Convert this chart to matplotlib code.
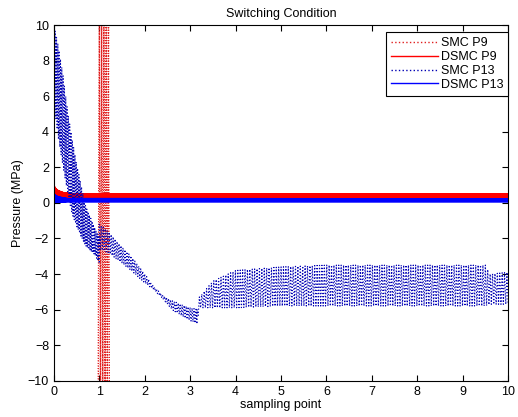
#!/usr/bin/env python3
# Switching condition: pressure response of SMC vs DSMC at P9 and P13.

import numpy as np
import matplotlib
matplotlib.use('Agg')
import matplotlib.pyplot as plt

plt.rcParams['font.family'] = ['Liberation Sans', 'DejaVu Sans']

# SMC P9: turning points of the large oscillation near x = 1
smc_p9_x = [0.97, 0.995, 1.02, 1.045, 1.07, 1.095, 1.12, 1.145, 1.17, 1.195, 1.22,
            1.207, 1.182, 1.157, 1.132, 1.107, 1.082, 1.057, 1.032, 1.007, 0.982]
smc_p9_y = [-10.5, 10.5, -10.5, 10.5, -10.5, 10.5, -10.5, 10.5, -10.5, 10.5, -10.5,
            10.5, -10.5, 10.5, -10.5, 10.5, -10.5, 10.5, -10.5, 10.5, -10.5]

# DSMC P9: envelope of the fast oscillation
dsmc_p9_x = [0.0, 0.05, 0.1, 0.2, 0.4, 10.0]
dsmc_p9_hi = [1.0, 0.8, 0.7, 0.6, 0.52, 0.52]
dsmc_p9_lo = [0.3, 0.28, 0.27, 0.26, 0.26, 0.26]

# DSMC P13: envelope of the fast oscillation
dsmc_p13_x = [0.0, 0.1, 0.3, 10.0]
dsmc_p13_hi = [0.5, 0.35, 0.26, 0.25]
dsmc_p13_lo = [0.02, 0.03, 0.05, 0.05]

# SMC P13: envelopes of the three phases
smc_p13_a_x = [0.0, 0.1, 0.2, 0.3, 0.4, 0.5, 0.6, 0.7, 0.8, 0.9, 1.0]
smc_p13_a_hi = [10.0, 8.8, 7.2, 5.2, 3.6, 2.2, 1.0, -0.2, -0.8, -1.4, -2.0]
smc_p13_a_lo = [5.6, 3.6, 2.1, 0.6, -0.6, -1.3, -1.9, -2.4, -2.7, -2.9, -3.4]

smc_p13_b_x = [1.0, 1.2, 1.4, 1.7, 2.0, 2.2, 2.4, 2.6, 2.9, 3.15]
smc_p13_b_hi = [-1.2, -1.6, -2.2, -3.0, -4.0, -4.7, -5.2, -5.5, -5.8, -6.0]
smc_p13_b_lo = [-2.6, -2.8, -3.2, -3.8, -4.5, -4.9, -5.4, -6.0, -6.5, -6.8]

smc_p13_c_x = [3.15, 3.2, 3.5, 4.0, 5.0, 6.0, 7.0, 8.0, 9.0, 9.5, 9.6, 10.0]
smc_p13_c_hi = [-6.0, -5.3, -4.4, -3.8, -3.6, -3.5, -3.5, -3.5, -3.5, -3.5, -4.0, -3.9]
smc_p13_c_lo = [-6.8, -5.9, -5.9, -5.9, -5.8, -5.8, -5.8, -5.8, -5.8, -5.8, -5.7, -5.7]


def zigzag(xk, hi, lo, n):
    # alternate between the upper and lower envelope
    x = np.linspace(xk[0], xk[-1], n)
    top = np.interp(x, xk, hi)
    bot = np.interp(x, xk, lo)
    y = np.where(np.arange(n) % 2 == 0, top, bot)
    return x, y


fig = plt.figure(figsize=(5.18, 4.17), dpi=100)
ax = fig.add_axes([0.104, 0.087, 0.877, 0.853])

ax.plot(smc_p9_x, smc_p9_y, color='#e02020', ls=':', lw=0.7, label='SMC P9')

x, y = zigzag(dsmc_p9_x, dsmc_p9_hi, dsmc_p9_lo, 3000)
ax.plot(x, y, color='#ff0000', ls='-', lw=0.6, label='DSMC P9')

xa, ya = zigzag(smc_p13_a_x, smc_p13_a_hi, smc_p13_a_lo, 70)
xb, yb = zigzag(smc_p13_b_x, smc_p13_b_hi, smc_p13_b_lo, 100)
xc, yc = zigzag(smc_p13_c_x, smc_p13_c_hi, smc_p13_c_lo, 260)
ax.plot(np.concatenate([xa, xb, xc]), np.concatenate([ya, yb, yc]),
        color='#0000b4', ls=':', lw=0.85, label='SMC P13')

x, y = zigzag(dsmc_p13_x, dsmc_p13_hi, dsmc_p13_lo, 3000)
ax.plot(x, y, color='#0000ff', ls='-', lw=0.6, label='DSMC P13')

ax.set_xlim(0, 10)
ax.set_ylim(-10, 10)
ax.set_xticks(range(0, 11))
ax.set_yticks(range(-10, 11, 2))
ax.tick_params(direction='in', top=True, right=True, length=4, labelsize=9)
ax.set_xlabel('sampling point', fontsize=9, labelpad=1)
ax.set_ylabel('Pressure (MPa)', fontsize=9, labelpad=3)
ax.set_title('Switching Condition', fontsize=9, pad=6)

leg = ax.legend(loc='upper right', bbox_to_anchor=(1.0, 0.98), borderaxespad=0,
                fontsize=9, fancybox=False, framealpha=1, handlelength=3.8,
                labelspacing=0.15, borderpad=0.4, handletextpad=0.2)
leg.get_frame().set_edgecolor('black')
leg.get_frame().set_linewidth(0.8)
for h in leg.get_lines():
    h.set_linewidth(1.0)

fig.savefig('out.png', dpi=100)
